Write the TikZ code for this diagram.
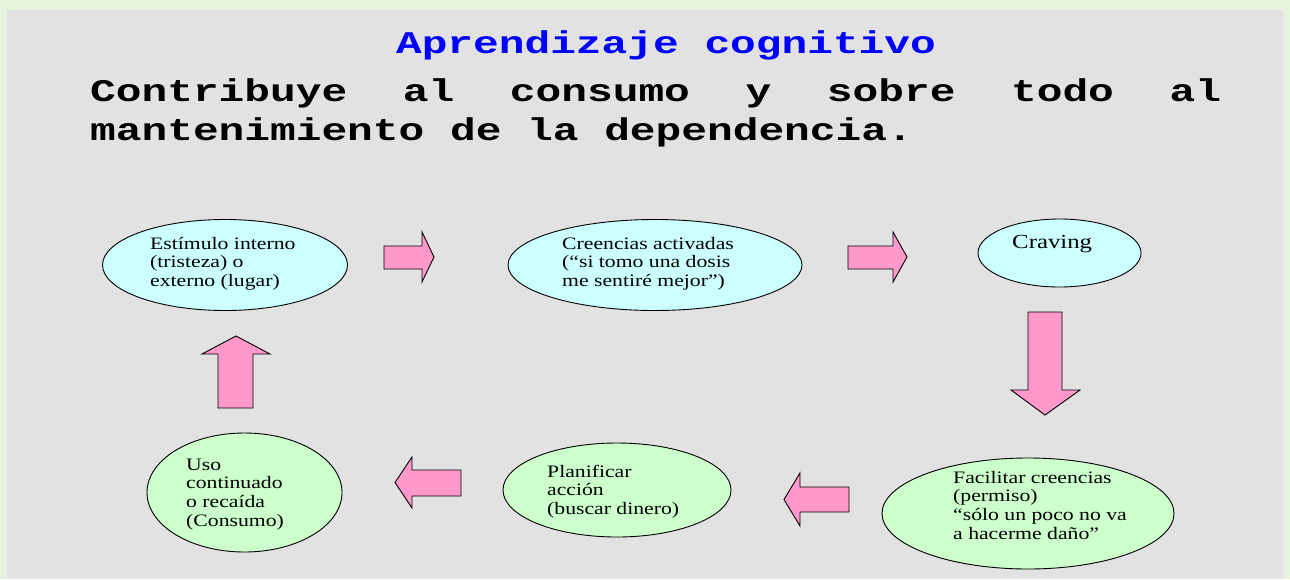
\documentclass[tikz,border=0pt]{standalone}
\usepackage{fontspec}
\usetikzlibrary{shapes.geometric}
\newfontfamily\tnr[FakeStretch=1.24]{Liberation Serif}
\newfontfamily\crr[FakeStretch=1.36]{Liberation Mono}
\definecolor{outergreen}{RGB}{232,243,222}
\definecolor{innergrey}{RGB}{226,226,226}
\definecolor{cyanfill}{RGB}{204,255,255}
\definecolor{greenfill}{RGB}{204,255,204}
\definecolor{arrowpink}{RGB}{255,153,204}
\definecolor{titleblue}{RGB}{0,0,255}
\newcommand\txtlines[1]{\vtop{\tnr\fontsize{17.5pt}{18.7pt}\selectfont\baselineskip=18.7pt\halign{##\hfil\cr #1\crcr}}}
\tikzset{
  bubble/.style={ellipse, draw=black, line width=0.9pt, inner sep=0pt},
  cyanbubble/.style={bubble, fill=cyanfill},
  greenbubble/.style={bubble, fill=greenfill},
  bubbletext/.style={anchor=base west, inner sep=0pt, text=black},
  blockarrow/.style={draw=black, fill=arrowpink, line width=0.9pt, line join=miter},
  monotext/.style={inner sep=0pt, font=\crr\bfseries\fontsize{31.5pt}{36pt}\selectfont}
}
\begin{document}
\begin{tikzpicture}[x=1pt,y=-1pt]
\fill[outergreen] (0,0) rectangle (1290,579);
\fill[innergrey] (7,10) rectangle (1283,579);
\useasboundingbox (0,0) rectangle (1290,579);

% titles
\node[monotext, anchor=base, text=titleblue] (title) at (666,53) {Aprendizaje cognitivo};
\node[monotext, anchor=base west] (line1) at (90,101.7) {\hbox to 1131pt{Contribuye\hfill al\hfill consumo\hfill y\hfill sobre\hfill todo\hfill al}};
\node[monotext, anchor=base west] (line2) at (90,140) {mantenimiento de la dependencia.};

% ellipses
\node[cyanbubble, minimum width=245pt, minimum height=91pt] (e1) at (225,265) {};
\node[cyanbubble, minimum width=294pt, minimum height=91pt] (e2) at (655,265) {};
\node[cyanbubble, minimum width=163pt, minimum height=68pt] (e3) at (1059.5,253) {};
\node[greenbubble, minimum width=292pt, minimum height=111pt] (e4) at (1028,513.5) {};
\node[greenbubble, minimum width=228pt, minimum height=94pt] (e5) at (617,490) {};
\node[greenbubble, minimum width=195pt, minimum height=119pt] (e6) at (244.5,492.5) {};

% texts
\node[bubbletext] (t1) at (150,249) {\txtlines{Estímulo interno\cr (tristeza) o\cr externo (lugar)}};
\node[bubbletext] (t2) at (562,249) {\txtlines{Creencias activadas\cr (“si tomo una dosis\cr me sentiré mejor”)}};
\node[bubbletext, font=\tnr\fontsize{20pt}{22pt}\selectfont] (t3) at (1012,248) {Craving};
\node[bubbletext] (t4) at (953,483) {\txtlines{Facilitar creencias\cr (permiso)\cr “sólo un poco no va\cr a hacerme daño”}};
\node[bubbletext] (t5) at (547,477) {\txtlines{Planificar\cr acción\cr (buscar dinero)}};
\node[bubbletext] (t6) at (186,470) {\txtlines{Uso\cr continuado\cr o recaída\cr (Consumo)}};

% block arrows
\draw[blockarrow] (384,246) -- (422,246) -- (422,232) -- (434,257) -- (422,282) -- (422,269) -- (384,269) -- cycle;
\draw[blockarrow] (848,246) -- (893,246) -- (893,232) -- (907,257) -- (893,282) -- (893,269) -- (848,269) -- cycle;
\draw[blockarrow] (1028,312) -- (1062,312) -- (1062,390) -- (1080,390) -- (1045,415) -- (1011,390) -- (1028,390) -- cycle;
\draw[blockarrow] (849,487) -- (800,487) -- (800,473) -- (784,499.5) -- (800,526) -- (800,512) -- (849,512) -- cycle;
\draw[blockarrow] (461,470) -- (412,470) -- (412,457) -- (395,482.5) -- (412,508) -- (412,496) -- (461,496) -- cycle;
\draw[blockarrow] (218,408) -- (218,354) -- (202,354) -- (236,336) -- (270,354) -- (253,354) -- (253,408) -- cycle;
\end{tikzpicture}
\end{document}
